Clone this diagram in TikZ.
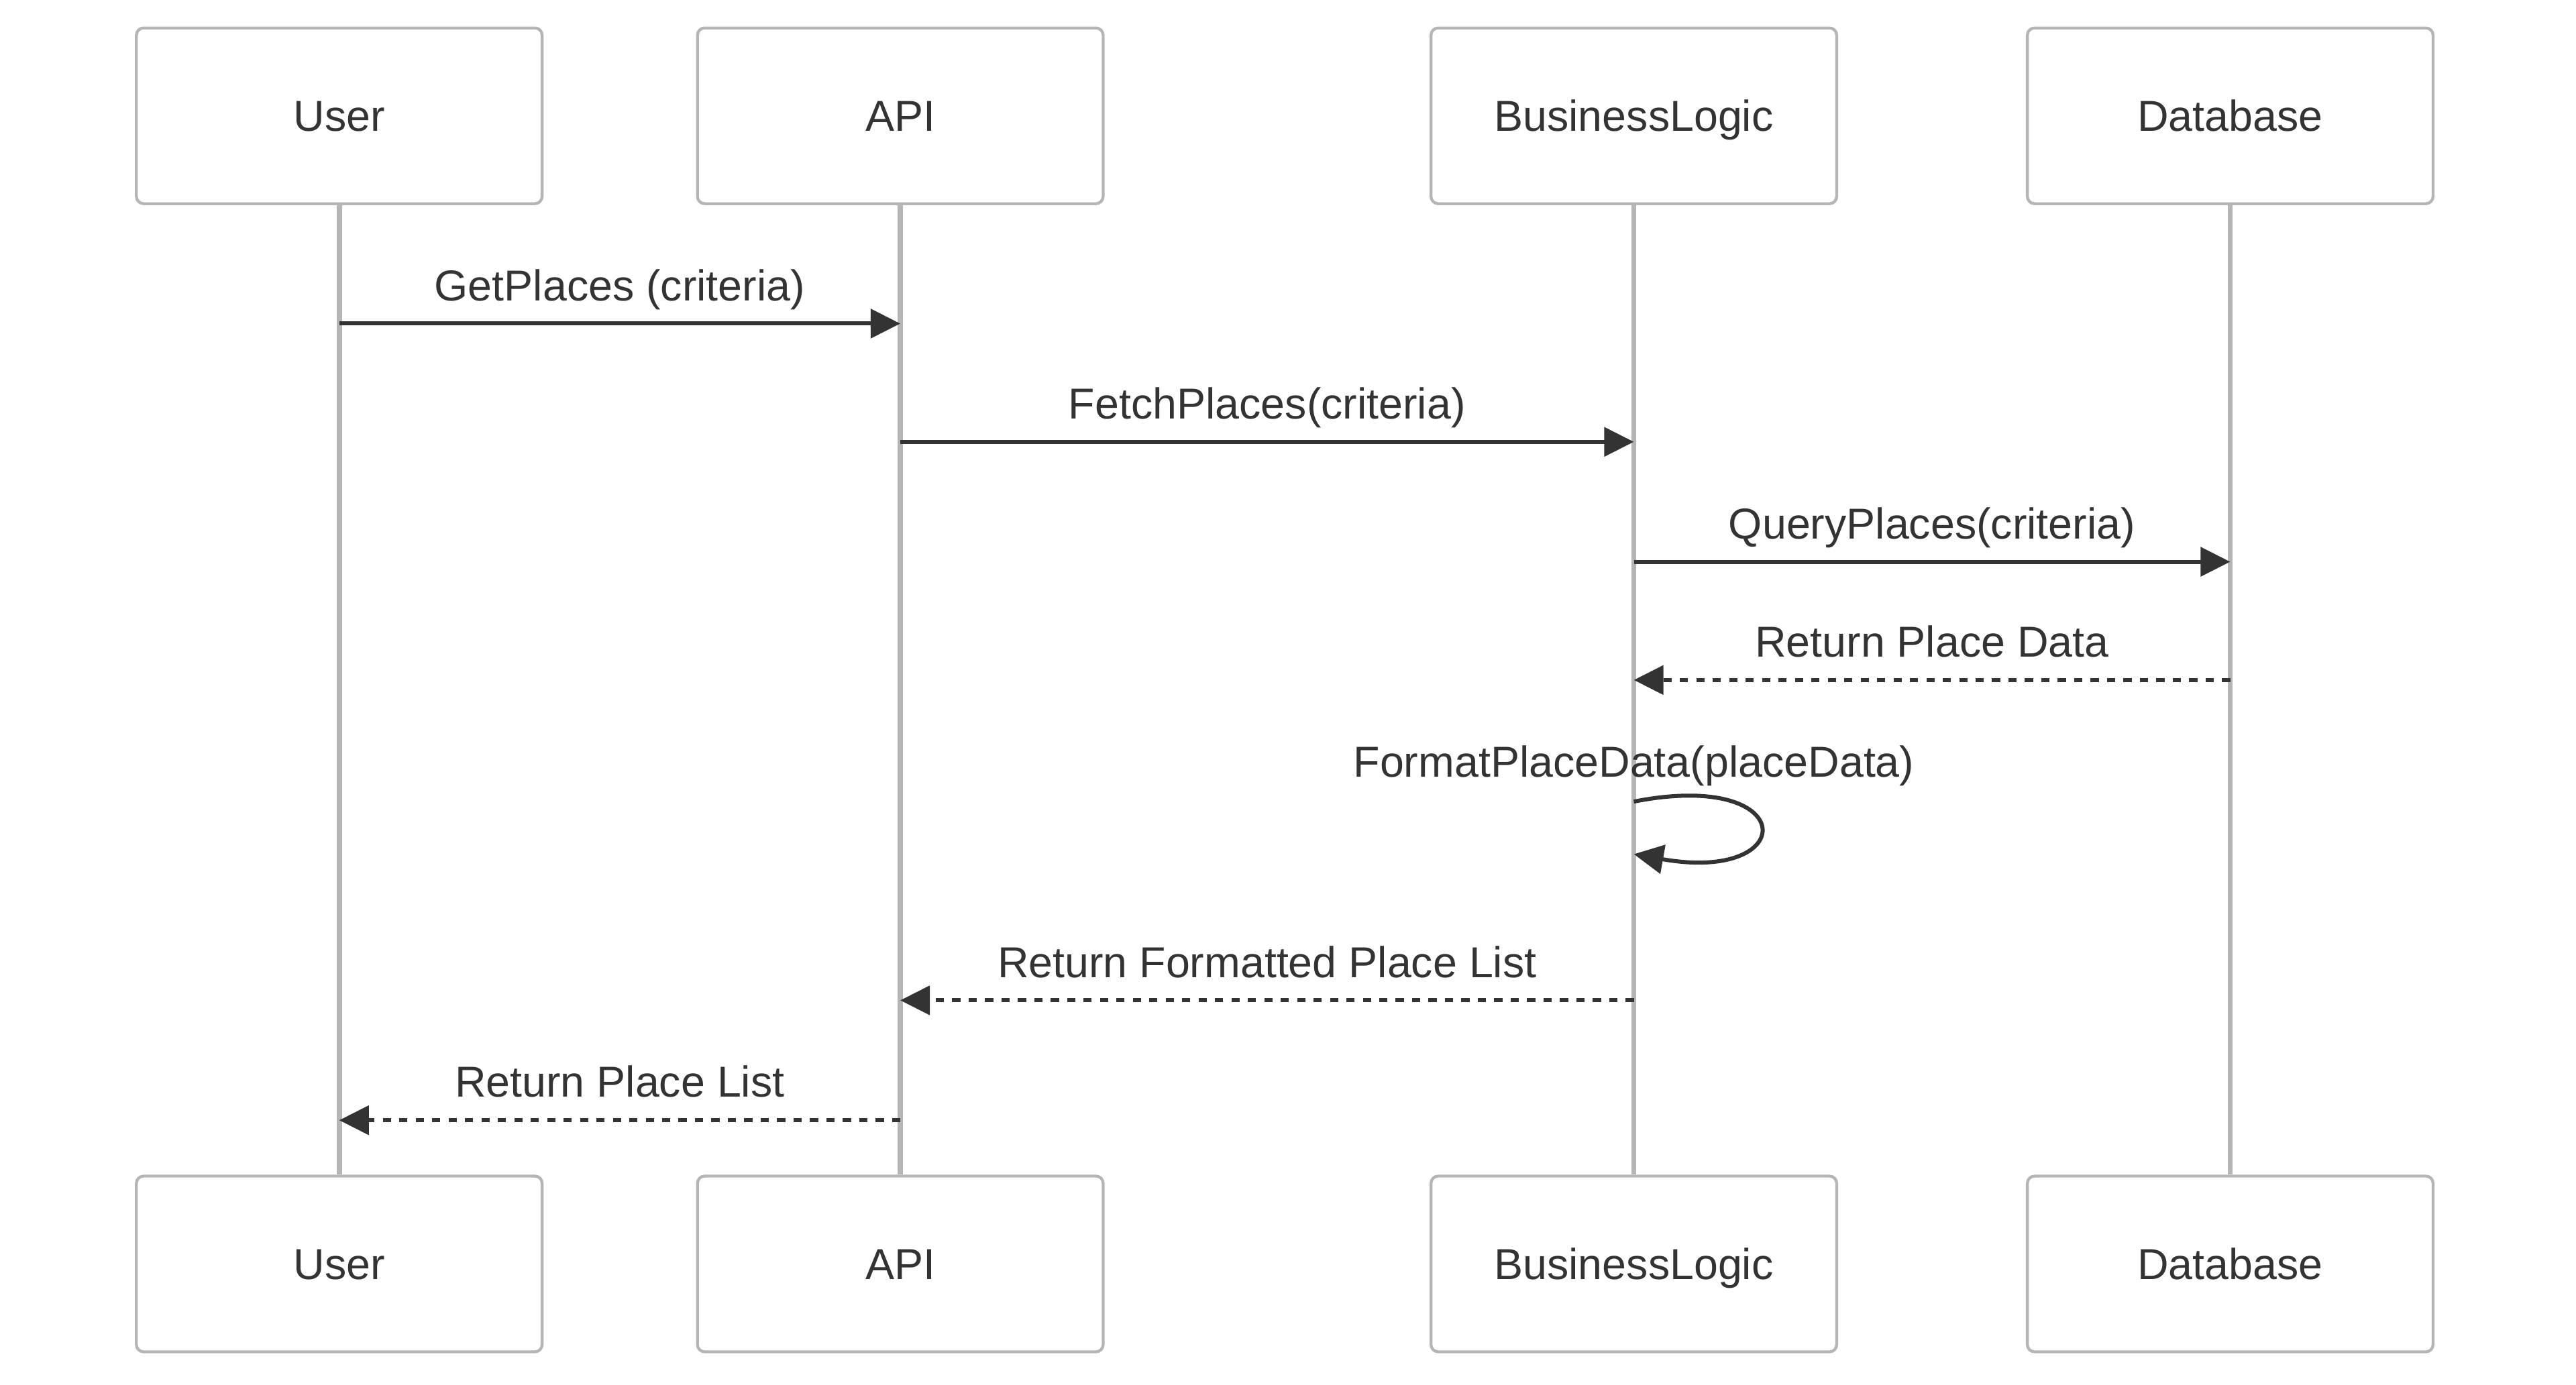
\documentclass[tikz,border=0pt]{standalone}
\usepackage{fontspec}
\setmainfont{Liberation Sans}
\usetikzlibrary{arrows.meta}
\definecolor{ink}{HTML}{333333}
\definecolor{frame}{HTML}{B5B5B5}
\begin{document}
\begin{tikzpicture}[x=0.02cm, y=-0.02cm, font=\fontsize{15}{18}\selectfont, text=ink,
        >={Triangle[length=0.36cm, width=0.35cm]}]

    \useasboundingbox (0,0) rectangle (1568,843);

    \begin{scope}[every node/.style={rectangle, rounded corners=2.5pt, draw=frame, line width=1pt, fill=white, minimum width=4.94cm, minimum height=2.14cm, text height=10.8pt, text depth=0pt}]
        \node (U) at (206.5,70.5) {User};
        \node (A) at (548,70.5) {API};
        \node (B) at (994.5,70.5) {BusinessLogic};
        \node (D) at (1357.5,70.5) {Database};
        \node (U2) at (206.5,769.5) {User};
        \node (A2) at (548,769.5) {API};
        \node (B2) at (994.5,769.5) {BusinessLogic};
        \node (D2) at (1357.5,769.5) {Database};
    \end{scope}
    \begin{scope}[every path/.style={frame, line width=1.8pt}]
        \path (U) edge (U2);
        \path (A) edge (A2);
        \path (B) edge (B2);
        \path (D) edge (D2);
    \end{scope}

    \coordinate (m1) at (0,197);
    \coordinate (m2) at (0,269);
    \coordinate (m3) at (0,342);
    \coordinate (m4) at (0,414);
    \coordinate (m5) at (0,488);
    \coordinate (m5b) at (0,520);
    \coordinate (m6) at (0,609);
    \coordinate (m7) at (0,682);

    \begin{scope}[every path/.style={->, color=ink, line width=1.4pt}]
        \path (U |- m1) edge node[midway, anchor=base, yshift=0.28cm] {GetPlaces (criteria)} (A |- m1);
        \path (A |- m2) edge node[midway, anchor=base, yshift=0.28cm] {FetchPlaces(criteria)} (B |- m2);
        \path (B |- m3) edge node[midway, anchor=base, yshift=0.28cm] {QueryPlaces(criteria)} (D |- m3);
        \path [dash pattern=on 0.1cm off 0.1cm] (D |- m4) edge node[midway, anchor=base, yshift=0.28cm] {Return Place Data} (B |- m4);
        \draw (B |- m5) node[anchor=base, yshift=0.3cm] {FormatPlaceData(placeData)}
            .. controls (1096,468) and (1096,538) .. (B |- m5b);
        \path [dash pattern=on 0.1cm off 0.1cm] (B |- m6) edge node[midway, anchor=base, yshift=0.28cm] {Return Formatted Place List} (A |- m6);
        \path [dash pattern=on 0.1cm off 0.1cm] (A |- m7) edge node[midway, anchor=base, yshift=0.28cm] {Return Place List} (U |- m7);
    \end{scope}
\end{tikzpicture}
\end{document}
